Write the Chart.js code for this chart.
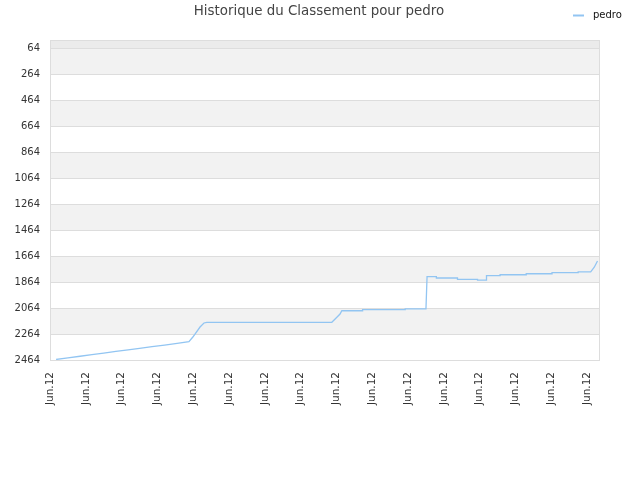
<!DOCTYPE html>
<html>
<head>
<meta charset="utf-8">
<script src="https://cdn.jsdelivr.net/npm/chart.js@4.4.1/dist/chart.umd.min.js"></script>
<style>
  html, body { margin: 0; padding: 0; background: #fff; }
</style>
</head>
<body>
<canvas id="rankChart" width="640" height="480"></canvas>
<script>
// ── DATA ──────────────────────────────────────────────
const chartTitle = 'Historique du Classement pour pedro';
const seriesName = 'pedro';

// time position (one x-label every 10 units) and rank
const timeIdx = [
    1.7, 5, 8.4, 11.7, 15, 18.4, 21.8, 25, 28.5, 32, 35.5, 38.8,
    39.9, 41.9, 43, 43.8,
    78.7, 79.9, 81, 81.5,
    87.3, 87.3, 99.2, 99.2, 105, 105.3,
    107.9, 107.9, 113.8, 113.8, 119.4, 119.4, 121.8, 121.9,
    125.7, 125.7, 133, 133, 140.2, 140.2, 147.5, 147.5, 151, 152, 152.9
];
const rankValues = [
    2460, 2448, 2435, 2423, 2411, 2398, 2386, 2374, 2361, 2349, 2336, 2323,
    2287, 2210, 2179, 2174,
    2174, 2141, 2110, 2085,
    2085, 2077, 2077, 2070, 2070, 1823,
    1823, 1833, 1833, 1843, 1843, 1849, 1849, 1815,
    1815, 1808, 1808, 1800, 1800, 1792, 1792, 1785, 1785, 1750, 1702
];

const xTickLabels = ['Jun.12', 'Jun.12', 'Jun.12', 'Jun.12', 'Jun.12', 'Jun.12', 'Jun.12', 'Jun.12',
                     'Jun.12', 'Jun.12', 'Jun.12', 'Jun.12', 'Jun.12', 'Jun.12', 'Jun.12', 'Jun.12'];
const yTickValues = [64, 264, 464, 664, 864, 1064, 1264, 1464, 1664, 1864, 2064, 2264, 2464];

// ── STYLE ─────────────────────────────────────────────
const lineColor = '#92c5f2';
const gridColor = '#dddddd';
const bandColor = '#f2f2f2';
const topStrip  = '#ebebeb';
const fontFam   = '"DejaVu Sans", Verdana, sans-serif';

// alternating horizontal bands behind the grid
const bandsPlugin = {
    id: 'bands',
    beforeDraw(chart) {
        const { ctx, chartArea: a, scales: { y } } = chart;
        ctx.save();
        ctx.fillStyle = topStrip;
        ctx.fillRect(a.left, a.top, a.right - a.left, y.getPixelForValue(yTickValues[0]) - a.top);
        ctx.fillStyle = bandColor;
        for (let i = 0; i < yTickValues.length - 1; i += 2) {
            const y0 = y.getPixelForValue(yTickValues[i]);
            const y1 = y.getPixelForValue(yTickValues[i + 1]);
            ctx.fillRect(a.left, y0, a.right - a.left, y1 - y0);
        }
        ctx.restore();
    },
    afterDraw(chart) {
        const { ctx, chartArea: a } = chart;
        ctx.save();
        // frame
        ctx.strokeStyle = gridColor;
        ctx.lineWidth = 1;
        ctx.strokeRect(a.left + 0.5, a.top + 0.5, a.right - a.left - 1, a.bottom - a.top);
        // title
        ctx.fillStyle = '#444';
        ctx.font = '13.4px ' + fontFam;
        ctx.textAlign = 'center';
        ctx.textBaseline = 'middle';
        ctx.fillText(chartTitle, 319, 12);
        // legend
        ctx.strokeStyle = lineColor;
        ctx.lineWidth = 2;
        ctx.beginPath();
        ctx.moveTo(573, 15.5);
        ctx.lineTo(584, 15.5);
        ctx.stroke();
        ctx.fillStyle = '#111';
        ctx.font = '10px ' + fontFam;
        ctx.textAlign = 'left';
        ctx.fillText(seriesName, 593, 15);
        ctx.restore();
    }
};

new Chart(document.getElementById('rankChart').getContext('2d'), {
    type: 'line',
    data: {
        datasets: [{
            label: seriesName,
            data: timeIdx.map((t, i) => ({ x: t, y: rankValues[i] })),
            borderColor: lineColor,
            borderWidth: 1.3,
            pointRadius: 0,
            tension: 0,
            fill: false
        }]
    },
    options: {
        responsive: false,
        animation: false,
        devicePixelRatio: 1,
        layout: { padding: { top: 40, right: 40, left: 0, bottom: 0 } },
        plugins: {
            legend: { display: false },
            title: { display: false },
            tooltip: { enabled: false }
        },
        scales: {
            x: {
                type: 'linear',
                min: 0,
                max: 153.6,
                afterBuildTicks: s => { s.ticks = xTickLabels.map((_, i) => ({ value: i * 10 })); },
                afterFit: s => { s.height = 120; },
                grid: { display: false, drawTicks: false },
                border: { display: false },
                ticks: {
                    autoSkip: false,
                    minRotation: 90,
                    maxRotation: 90,
                    padding: 12,
                    color: '#333',
                    font: { family: fontFam, size: 10.5 },
                    callback: (v) => xTickLabels[Math.round(v / 10)]
                }
            },
            y: {
                reverse: true,
                min: 1,
                max: 2464,
                afterBuildTicks: s => { s.ticks = yTickValues.map(v => ({ value: v })); },
                afterFit: s => { s.width = 50; },
                grid: { color: gridColor, drawTicks: false },
                border: { display: false },
                ticks: {
                    padding: 10,
                    color: '#333',
                    font: { family: fontFam, size: 10 },
                    callback: v => String(v)
                }
            }
        }
    },
    plugins: [bandsPlugin]
});
</script>
</body>
</html>
